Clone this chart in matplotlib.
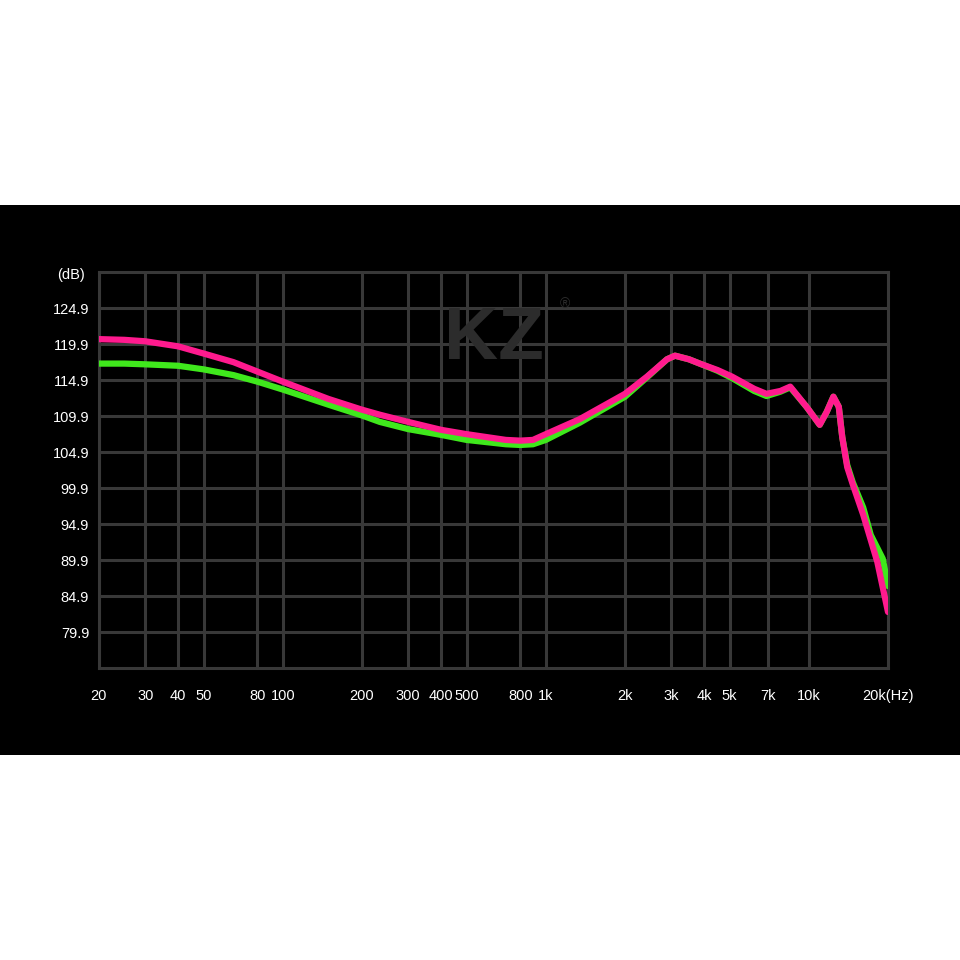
import matplotlib
matplotlib.use('Agg')
import matplotlib.pyplot as plt
from matplotlib.patches import Rectangle

plt.rcParams['font.family'] = ['Liberation Sans', 'DejaVu Sans']

# frequency axis ticks
freq_ticks = [20, 30, 40, 50, 80, 100, 200, 300, 400, 500, 800,
              1000, 2000, 3000, 4000, 5000, 7000, 10000, 20000]
freq_labels = ['20', '30', '40', '50', '80', '100', '200', '300', '400', '500', '800',
               '1k', '2k', '3k', '4k', '5k', '7k', '10k', '20k(Hz)']
db_ticks = [79.9, 84.9, 89.9, 94.9, 99.9, 104.9, 109.9, 114.9, 119.9, 124.9]

# curves
freq = [20, 25, 30, 40, 50, 65, 80, 100, 149, 200, 234, 300, 400, 500, 705,
        800, 894, 1000, 1348, 2000, 2427, 2890, 3100, 3500, 3850, 4500, 5100,
        6200, 6900, 7800, 8500, 9800, 11000, 11700, 12400, 13000, 13400,
        14000, 14700, 16100, 18200, 20000]
pink_db = [120.6, 120.5, 120.3, 119.6, 118.6, 117.4, 116.1, 114.7, 112.3, 110.8,
           110.1, 109.1, 108.0, 107.4, 106.6, 106.5, 106.6, 107.4, 109.5, 113.0,
           115.4, 117.8, 118.3, 117.8, 117.2, 116.3, 115.4, 113.7, 113.0, 113.4,
           114.0, 111.2, 108.7, 110.5, 112.6, 111.2, 107.0, 102.8, 100.4,
           96.2, 89.7, 82.7]

freq_g = [20, 25, 30, 40, 50, 65, 80, 100, 149, 200, 234, 300, 400, 500, 705,
          800, 894, 1000, 1348, 2000, 2427, 2890, 3100, 3500, 3850, 4500, 5100,
          6200, 6900, 7800, 8500, 9800, 11000, 11700, 12400, 13000, 13400,
          14000, 14700, 16100, 17200, 19100, 20000]
green_db = [117.2, 117.2, 117.1, 116.9, 116.4, 115.6, 114.7, 113.6, 111.5, 110.0,
            109.1, 108.1, 107.3, 106.6, 106.0, 105.9, 106.0, 106.6, 109.0, 112.6,
            115.3, 117.8, 118.3, 117.8, 117.2, 116.2, 115.2, 113.4, 112.7, 113.3,
            113.9, 111.2, 108.7, 110.5, 112.6, 111.2, 107.0, 103.1, 100.7,
            97.2, 93.4, 90.1, 86.3]

grid_col = '#383838'

fig = plt.figure(figsize=(9.6, 9.6), dpi=100)
fig.patch.set_facecolor('white')
# black band behind the chart
fig.patches.append(Rectangle((0, 0.2135), 1, 0.573, transform=fig.transFigure,
                             facecolor='black', edgecolor='none', zorder=-5))

ax = fig.add_axes([0.103, 0.304, 0.822, 0.4125])
ax.set_zorder(2)
ax.set_facecolor('black')
ax.set_xscale('log')
ax.set_xlim(20, 20000)
ax.set_ylim(74.9, 129.9)

ax.set_xticks(freq_ticks)
ax.set_xticklabels(freq_labels)
ax.minorticks_off()
ax.set_yticks(db_ticks)
ax.set_yticklabels([str(v) for v in db_ticks])
ax.tick_params(colors='white', length=0, labelsize=10.5)
ax.tick_params(axis='x', pad=15)
ax.tick_params(axis='y', pad=7)
ax.grid(True, color=grid_col, linewidth=2.2)
for s in ax.spines.values():
    s.set_color(grid_col)
    s.set_linewidth(2.2)
ax.set_axisbelow(True)

# watermark
ax.text(0.5, 0.83, 'KZ', transform=ax.transAxes, color='#2c2c2c', fontsize=54,
        fontweight='bold', ha='center', va='center', zorder=1)
ax.text(0.59, 0.92, '®', transform=ax.transAxes, color='#2c2c2c', fontsize=10,
        ha='center', va='center', zorder=1)

ax.plot(freq_g, green_db, color='#3fe81c', linewidth=4.5, solid_capstyle='round',
        solid_joinstyle='round', zorder=3)
ax.plot(freq, pink_db, color='#ff1a8e', linewidth=4.5, solid_capstyle='round',
        solid_joinstyle='round', zorder=4)

fig.text(0.06, 0.7135, '(dB)', color='white', fontsize=10.5, ha='left', va='center')

fig.savefig('out.png', dpi=100, facecolor='white')
